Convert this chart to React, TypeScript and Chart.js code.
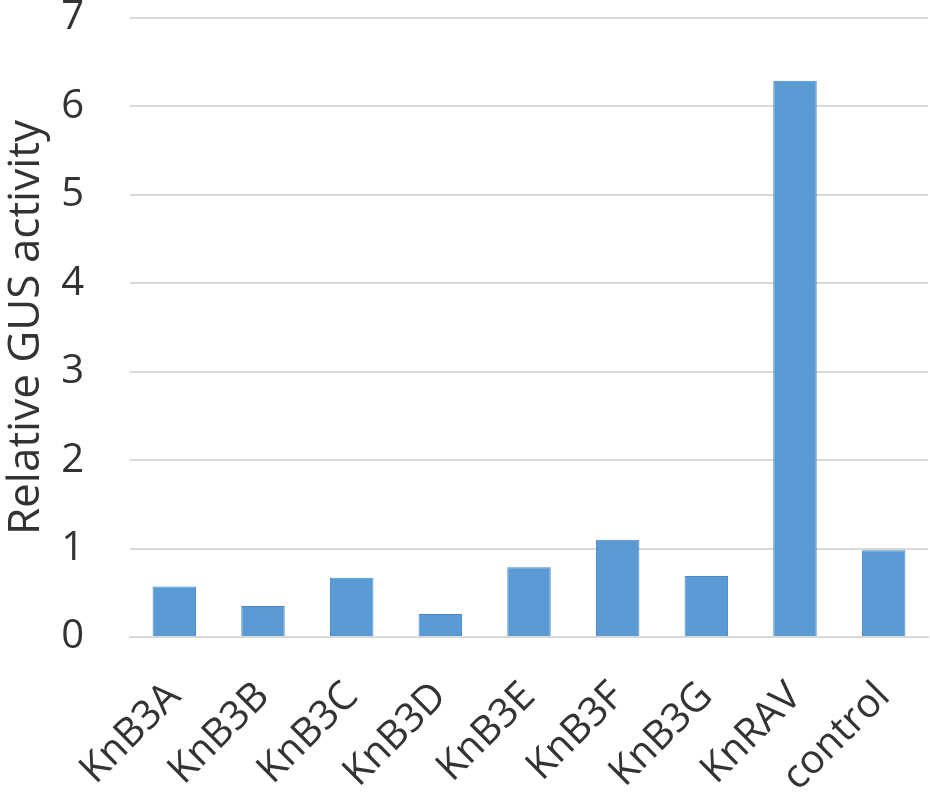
import React, { useEffect, useRef } from "react";
import { Chart, registerables } from "chart.js";

Chart.register(...registerables);

const categories = ["KnB3A", "KnB3B", "KnB3C", "KnB3D", "KnB3E", "KnB3F", "KnB3G", "KnRAV", "control"];
const gusActivity = [0.57, 0.35, 0.67, 0.26, 0.79, 1.1, 0.69, 6.29, 0.98];
const yTitle = "Relative GUS activity";

export default function App() {
  const ref = useRef<HTMLCanvasElement | null>(null);
  useEffect(() => {
    document.body.style.margin = "0";
    const ctx = ref.current!;
    const textColor = "#333333";
    const font = "'Open Sans', 'Noto Sans', sans-serif";
    const chart = new Chart(ctx, {
      type: "bar",
      data: {
        labels: categories,
        datasets: [
          {
            data: gusActivity,
            backgroundColor: "#5b9bd5",
            borderColor: "#4a89c4",
            borderWidth: 1,
            categoryPercentage: 1,
            barPercentage: 0.49,
          },
        ],
      },
      options: {
        responsive: false,
        animation: false,
        layout: { padding: { top: 0, right: 2, left: 0, bottom: 0 } },
        plugins: { legend: { display: false }, tooltip: { enabled: false } },
        scales: {
          y: {
            min: 0,
            max: 7,
            ticks: { stepSize: 1, color: textColor, font: { family: font, size: 40 }, padding: 46 },
            grid: { color: "#d9d9d9", lineWidth: 2, drawTicks: false },
            border: { display: false },
            title: { display: true, text: yTitle, color: textColor, font: { family: font, size: 44 }, padding: 0 },
            afterFit: (s: any) => {
              s.width = 130;
              s.paddingTop = 18;
              s.paddingBottom = 0;
            },
          },
          x: {
            ticks: {
              color: textColor,
              font: { family: font, size: 40 },
              minRotation: 45,
              maxRotation: 45,
              padding: 36,
            },
            grid: { display: false, drawTicks: false },
            border: { display: true, color: "#d9d9d9", width: 2 },
            afterFit: (s: any) => {
              s.height = 163;
              s.paddingLeft = 0;
              s.paddingRight = 0;
            },
          },
        },
      },
    });
    return () => chart.destroy();
  }, []);
  return (
    <div style={{ width: 930, height: 800 }}>
      <canvas ref={ref} width={930} height={800} style={{ width: 930, height: 800, display: "block" }} />
    </div>
  );
}
